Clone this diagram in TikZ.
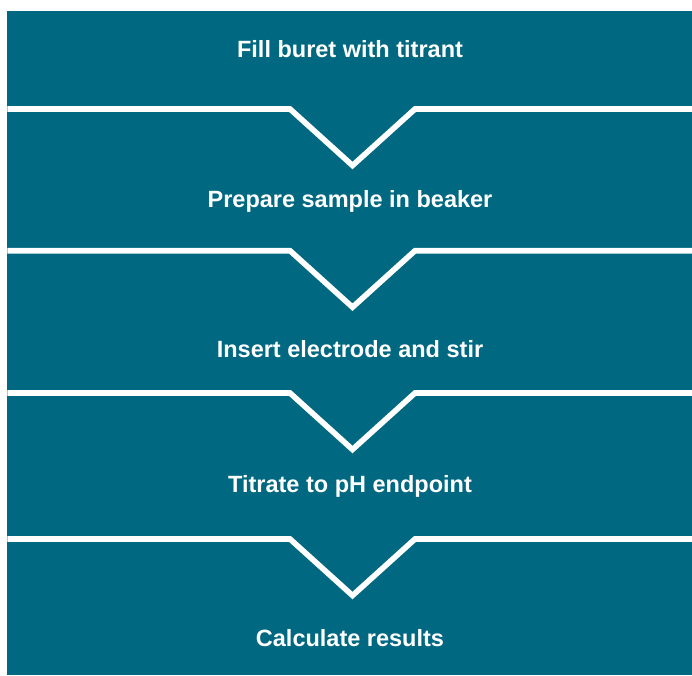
\documentclass[tikz,border=0pt]{standalone}
\usepackage{fontspec}
\setmainfont{Liberation Sans}
\definecolor{teal}{RGB}{0,104,128}
\begin{document}
\begin{tikzpicture}[x=1pt,y=-1pt,
  sep/.style={draw=white,line width=5.6pt,line join=miter},
  lbl/.style={text=white,font=\fontsize{23.5}{27}\selectfont\bfseries,anchor=base,inner sep=0pt}]
\useasboundingbox (0,0) rectangle (692,675);
\fill[teal] (7.3,10.5) rectangle (692,675);
\foreach \y in {109,250.7,393,539}{
  \draw[sep] (7.3,\y) -- (290,\y) -- (352.5,\y+56.5) -- (415,\y) -- (692,\y);
}
\node[lbl] (s1) at (350,57.3) {Fill buret with titrant};
\node[lbl] (s2) at (350,207.3) {Prepare sample in beaker};
\node[lbl] (s3) at (350,357.5) {Insert electrode and stir};
\node[lbl] (s4) at (350,492.5) {Titrate to pH endpoint};
\node[lbl] (s5) at (350,646) {Calculate results};
\end{tikzpicture}
\end{document}
